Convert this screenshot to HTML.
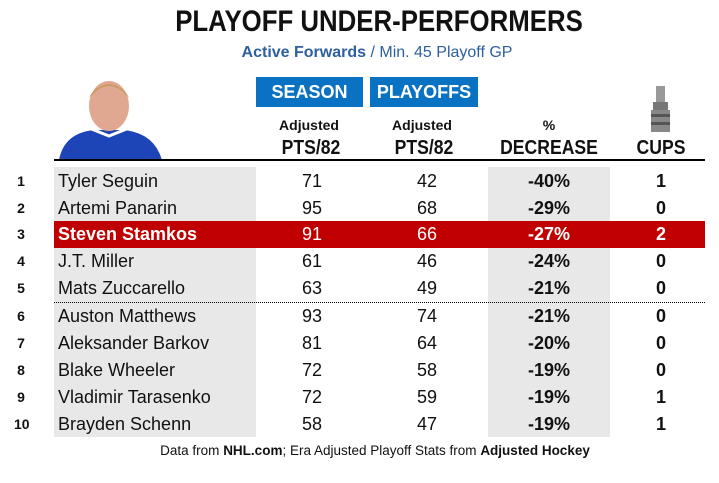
<!DOCTYPE html>
<html><head><style>
body{margin:0;width:719px;height:483px;background:#fff;position:relative;overflow:hidden;font-family:"Liberation Sans",sans-serif;color:#111}
.a{position:absolute;white-space:nowrap}
.c{transform:translateX(-50%)}
.t{left:379px;top:5px;font-size:30px;font-weight:bold;transform:translateX(-50%) scaleX(0.86)}
.s{left:377px;top:44px;font-size:16px;color:#2e5f9e}
.btn{position:absolute;top:77px;height:30px;background:#0a72c2;color:#fff;font-weight:bold;font-size:18px;line-height:31px;text-align:center}
.h1{font-size:14px;font-weight:bold;top:117px}
.h2{font-size:20px;font-weight:bold;top:137px;transform:translateX(-50%) scaleX(0.88)}
.row{position:absolute;left:0;width:719px;height:27px;font-size:18px;line-height:27px}
.row span{position:absolute}
.rk{left:14px;font-size:14px;font-weight:bold;width:14px;text-align:center}
.nm{left:58px}
.v{transform:translateX(-50%)}
</style></head><body>
<div class="a t">PLAYOFF UNDER-PERFORMERS</div>
<div class="a c s"><b>Active Forwards</b> / Min. 45 Playoff GP</div>
<div class="btn" style="left:256px;width:107px">SEASON</div>
<div class="btn" style="left:370px;width:108px">PLAYOFFS</div>
<svg class="a" style="left:54px;top:78px" width="112" height="82">
<path d="M5 82 Q10 55 40 52 L70 52 Q100 55 108 82Z" fill="#1e45b8"/>
<path d="M35 50 L55 58 L75 50" stroke="#fff" stroke-width="3" fill="none"/>
<ellipse cx="55" cy="28" rx="20" ry="25" fill="#e0a890"/>
<path d="M35 20 Q55 -4 75 20 Q70 8 55 6 Q40 8 35 20Z" fill="#c89a60"/>
</svg>
<svg class="a" style="left:647px;top:86px" width="28" height="48">
<rect x="9" y="0" width="9" height="16" fill="#999"/>
<rect x="6" y="16" width="15" height="8" fill="#777"/>
<rect x="4" y="24" width="19" height="22" fill="#888"/>
<rect x="4" y="28" width="19" height="3" fill="#555"/><rect x="4" y="36" width="19" height="3" fill="#555"/>
</svg>
<div class="a c h1" style="left:309px">Adjusted</div>
<div class="a c h1" style="left:422px">Adjusted</div>
<div class="a c h1" style="left:549px">%</div>
<div class="a h2" style="left:311px">PTS/82</div>
<div class="a h2" style="left:424px">PTS/82</div>
<div class="a h2" style="left:549px">DECREASE</div>
<div class="a h2" style="left:661px">CUPS</div>
<div class="a" style="left:54px;top:159px;width:651px;height:2px;background:#000"></div>
<div class="a" style="left:54px;top:167px;width:202px;height:270px;background:#e8e8e8"></div>
<div class="a" style="left:488px;top:167px;width:122px;height:270px;background:#e8e8e8"></div>
<div class="a" style="left:54px;top:221px;width:651px;height:27px;background:#c00000"></div>
<div class="a" style="left:54px;top:302px;width:651px;border-top:1px dotted #000"></div>
<div class="a c" style="left:375px;top:443px;font-size:13.5px">Data from <b>NHL.com</b>; Era Adjusted Playoff Stats from <b>Adjusted Hockey</b></div>
<div class="row" style="top:168px"><span class="rk">1</span><span class="nm">Tyler Seguin</span><span class="v" style="left:312px">71</span><span class="v" style="left:427px">42</span><span class="v" style="left:549px;font-weight:bold">-40%</span><span class="v" style="left:661px;font-weight:bold">1</span></div>
<div class="row" style="top:195px"><span class="rk">2</span><span class="nm">Artemi Panarin</span><span class="v" style="left:312px">95</span><span class="v" style="left:427px">68</span><span class="v" style="left:549px;font-weight:bold">-29%</span><span class="v" style="left:661px;font-weight:bold">0</span></div>
<div class="row" style="top:221px;color:#fff;font-weight:bold"><span class="rk" style="color:#111">3</span><span class="nm">Steven Stamkos</span><span class="v" style="left:312px;font-weight:normal">91</span><span class="v" style="left:427px;font-weight:normal">66</span><span class="v" style="left:549px">-27%</span><span class="v" style="left:661px">2</span></div>
<div class="row" style="top:248px"><span class="rk">4</span><span class="nm">J.T. Miller</span><span class="v" style="left:312px">61</span><span class="v" style="left:427px">46</span><span class="v" style="left:549px;font-weight:bold">-24%</span><span class="v" style="left:661px;font-weight:bold">0</span></div>
<div class="row" style="top:275px"><span class="rk">5</span><span class="nm">Mats Zuccarello</span><span class="v" style="left:312px">63</span><span class="v" style="left:427px">49</span><span class="v" style="left:549px;font-weight:bold">-21%</span><span class="v" style="left:661px;font-weight:bold">0</span></div>
<div class="row" style="top:303px"><span class="rk">6</span><span class="nm">Auston Matthews</span><span class="v" style="left:312px">93</span><span class="v" style="left:427px">74</span><span class="v" style="left:549px;font-weight:bold">-21%</span><span class="v" style="left:661px;font-weight:bold">0</span></div>
<div class="row" style="top:330px"><span class="rk">7</span><span class="nm">Aleksander Barkov</span><span class="v" style="left:312px">81</span><span class="v" style="left:427px">64</span><span class="v" style="left:549px;font-weight:bold">-20%</span><span class="v" style="left:661px;font-weight:bold">0</span></div>
<div class="row" style="top:357px"><span class="rk">8</span><span class="nm">Blake Wheeler</span><span class="v" style="left:312px">72</span><span class="v" style="left:427px">58</span><span class="v" style="left:549px;font-weight:bold">-19%</span><span class="v" style="left:661px;font-weight:bold">0</span></div>
<div class="row" style="top:384px"><span class="rk">9</span><span class="nm">Vladimir Tarasenko</span><span class="v" style="left:312px">72</span><span class="v" style="left:427px">59</span><span class="v" style="left:549px;font-weight:bold">-19%</span><span class="v" style="left:661px;font-weight:bold">1</span></div>
<div class="row" style="top:411px"><span class="rk">10</span><span class="nm">Brayden Schenn</span><span class="v" style="left:312px">58</span><span class="v" style="left:427px">47</span><span class="v" style="left:549px;font-weight:bold">-19%</span><span class="v" style="left:661px;font-weight:bold">1</span></div>
</body></html>
